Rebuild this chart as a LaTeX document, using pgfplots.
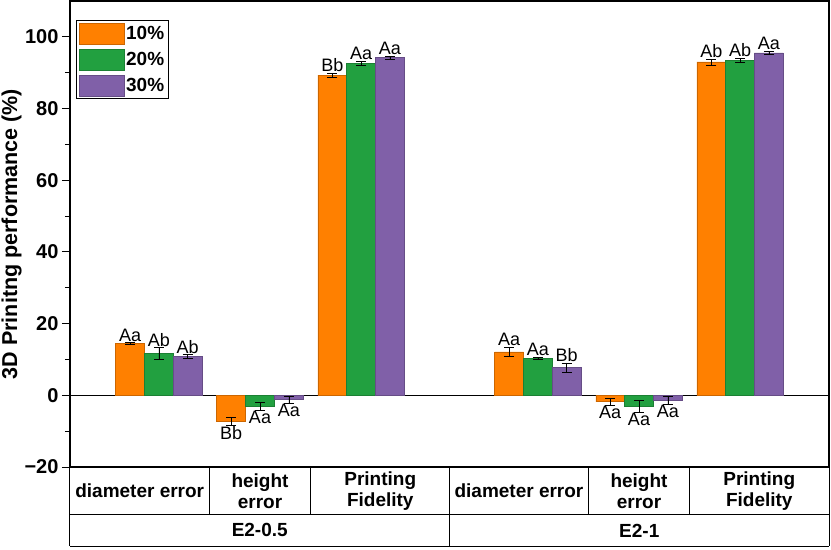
\documentclass[border=0pt]{standalone}
\usepackage{fontspec}
\setmainfont{Liberation Sans}
\usepackage{pgfplots}
\pgfplotsset{compat=1.18}
\usepackage{pgfplotstable}

\definecolor{cOr}{RGB}{255,128,0}
\definecolor{cGr}{RGB}{34,160,64}
\definecolor{cPu}{RGB}{128,96,168}

% x: category position, y: mean, e: error
\pgfplotstableread{
x y e
1 14.4 0.3
2 -7.3 1.1
3 89.3 0.6
4.75 12.1 1.3
5.75 -1.8 0.9
6.75 93.0 0.8
}\tA
\pgfplotstableread{
x y e
1 11.7 1.6
2 -3.1 1.1
3 92.7 0.5
4.75 10.4 0.3
5.75 -3.0 1.6
6.75 93.4 0.6
}\tB
\pgfplotstableread{
x y e
1 10.9 0.5
2 -1.2 1.0
3 94.2 0.5
4.75 7.8 1.25
5.75 -1.3 1.1
6.75 95.5 0.5
}\tC

\newcommand{\up}[3]{\node[anchor=south,inner sep=1pt,font=\fontsize{18}{20}\selectfont] at (axis cs:#1,#2) {#3};}
\newcommand{\dn}[3]{\node[anchor=north,inner sep=1pt,font=\fontsize{18}{20}\selectfont] at (axis cs:#1,#2) {#3};}

\pgfplotsset{
  mybar/.style={ybar, bar width=0.285, bar shift=0, line width=0.6pt,
    error bars/y dir=both, error bars/y explicit,
    error bars/error bar style={black, line width=0.6pt},
    error bars/error mark options={rotate=90, mark size=5pt, black, line width=0.6pt}},
}

\begin{document}
\begin{tikzpicture}
\begin{axis}[
  name=ax,
  scale only axis, width=759pt, height=466pt,
  xmin=0.12, xmax=7.63, ymin=-20, ymax=110,
  xtick=\empty,
  ytick={-20,0,20,40,60,80,100},
  yticklabels={−20,0,20,40,60,80,100},
  minor ytick={-10,10,30,50,70,90},
  ytick pos=left, tick align=outside,
  major tick length=8pt, minor tick length=5pt,
  axis line style={line width=1.2pt},
  tick style={line width=1pt, black},
  tick label style={font=\fontsize{20}{22}\selectfont\bfseries},
  ylabel={3D Prinitng performance (\%)},
  ylabel style={font=\fontsize{21.5}{23}\selectfont\bfseries, yshift=-4pt},
  clip=false,
  legend cell align=left,
  legend image code/.code={\draw[#1] (0pt,-10.5pt) rectangle (45pt,10.5pt);},
  legend style={at={(0.008,0.959)}, anchor=north west, draw=black, line width=1pt,
    font=\fontsize{19}{21}\selectfont\bfseries, inner sep=2pt, row sep=4.5pt,
    /tikz/every even column/.append style={column sep=4pt}},
]
\draw[line width=1pt] (axis cs:0.12,0) -- (axis cs:7.63,0);

\addplot[mybar, fill=cOr, draw=cOr!80!black]
  table[x expr=\thisrow{x}-0.285, y=y, y error=e]{\tA};
\addlegendentry{10\%}
\addplot[mybar, fill=cGr, draw=cGr!80!black]
  table[x=x, y=y, y error=e]{\tB};
\addlegendentry{20\%}
\addplot[mybar, fill=cPu, draw=cPu!80!black]
  table[x expr=\thisrow{x}+0.285, y=y, y error=e]{\tC};
\addlegendentry{30\%}

% significance letters
\up{0.715}{14.7}{Aa} \up{1}{13.3}{Ab} \up{1.285}{11.4}{Ab}
\dn{1.715}{-8.4}{Bb} \dn{2}{-4.2}{Aa} \dn{2.285}{-2.2}{Aa}
\up{2.715}{89.9}{Bb} \up{3}{93.2}{Aa} \up{3.285}{94.7}{Aa}
\up{4.465}{13.4}{Aa} \up{4.75}{10.7}{Aa} \up{5.035}{9.05}{Bb}
\dn{5.465}{-2.7}{Aa} \dn{5.75}{-4.6}{Aa} \dn{6.035}{-2.4}{Aa}
\up{6.465}{93.8}{Ab} \up{6.75}{94.0}{Ab} \up{7.035}{96.0}{Aa}

% table under the axis
\draw[line width=1pt] (axis cs:0.12,-33.37) -- (axis cs:7.63,-33.37);
\draw[line width=1pt] (axis cs:0.12,-42.06) -- (axis cs:7.63,-42.06);
\draw[line width=1pt] (axis cs:0.12,-20) -- (axis cs:0.12,-42.06);
\draw[line width=1pt] (axis cs:7.63,-20) -- (axis cs:7.63,-42.06);
\draw[line width=1pt] (axis cs:3.875,-20) -- (axis cs:3.875,-42.06);
\draw[line width=1pt] (axis cs:1.5,-20) -- (axis cs:1.5,-33.37);
\draw[line width=1pt] (axis cs:2.5,-20) -- (axis cs:2.5,-33.37);
\draw[line width=1pt] (axis cs:5.25,-20) -- (axis cs:5.25,-33.37);
\draw[line width=1pt] (axis cs:6.25,-20) -- (axis cs:6.25,-33.37);
\begin{scope}[every node/.style={font=\fontsize{19}{21.5}\selectfont\bfseries, align=center}]
\node at (axis cs:0.81,-26.7) {diameter error};
\node at (axis cs:2,-26.7) {height\\error};
\node at (axis cs:3.19,-26.7) {Printing\\Fidelity};
\node at (axis cs:4.5625,-26.7) {diameter error};
\node at (axis cs:5.75,-26.7) {height\\error};
\node at (axis cs:6.94,-26.7) {Printing\\Fidelity};
\node at (axis cs:1.9975,-37.7) {E2-0.5};
\node at (axis cs:5.7525,-37.7) {E2-1};
\end{scope}
\end{axis}
\pgfresetboundingbox
\path ([xshift=-70pt,yshift=-82pt]ax.south west) rectangle ([xshift=2pt,yshift=1pt]ax.north east);
\end{tikzpicture}
\end{document}
